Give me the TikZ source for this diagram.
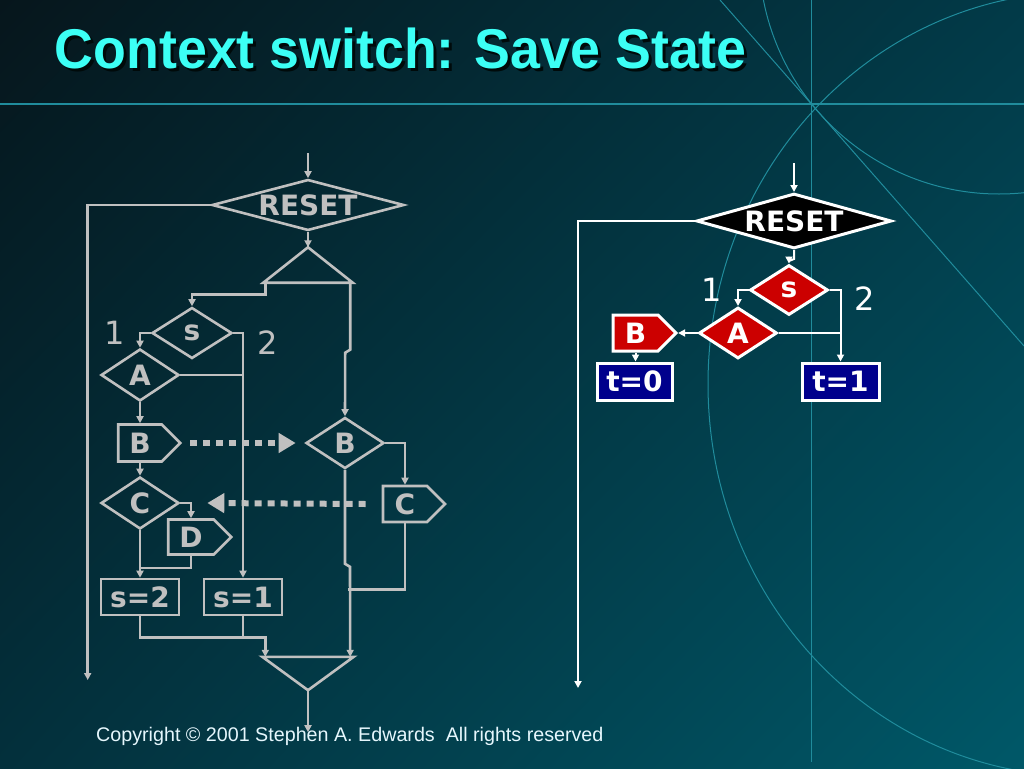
\documentclass[tikz,border=0pt]{standalone}
\usepackage{fontspec}
\setmainfont{Liberation Sans}
\newfontfamily\ttlfont[FakeStretch=0.96]{Liberation Sans}
\newfontfamily\dgfont{DejaVu Sans}
\usetikzlibrary{shapes.geometric,shapes.symbols,arrows.meta,shadings}
\definecolor{bgdark}{RGB}{6,22,28}
\definecolor{bgupr}{RGB}{2,58,72}
\definecolor{bglwl}{RGB}{3,48,60}
\definecolor{bglight}{RGB}{0,88,104}
\definecolor{deco}{RGB}{32,140,156}
\definecolor{titlecyan}{RGB}{60,255,245}
\definecolor{lgray}{RGB}{192,192,192}
\definecolor{sred}{RGB}{204,0,0}
\definecolor{snavy}{RGB}{0,0,140}

\begin{document}
\begin{tikzpicture}[x=1pt, y=-1pt,
  gline/.style={draw=lgray, line width=2.6pt},
  garr/.style={gline, -{Triangle[length=7pt,width=7pt]}},
  gdot/.style={draw=lgray, line width=6pt, dash pattern=on 7pt off 6pt, -{Triangle[length=17pt,width=19pt]}},
  gdia/.style={diamond, aspect=1.6, draw=lgray, line width=2.6pt, inner sep=0pt, text=lgray, font=\dgfont\bfseries\fontsize{28}{28}\selectfont},
  gsig/.style={signal, signal to=east, signal pointer angle=90, draw=lgray, line width=2.6pt, inner sep=0pt, text=lgray, font=\dgfont\bfseries\fontsize{28}{28}\selectfont},
  gbox/.style={rectangle, draw=lgray, line width=2.6pt, inner sep=0pt, text=lgray, font=\dgfont\bfseries\fontsize{28}{28}\selectfont},
  glab/.style={text=lgray, font=\dgfont\fontsize{32}{32}\selectfont},
  wline/.style={draw=white, line width=2pt},
  warr/.style={wline, -{Triangle[length=7pt,width=7pt]}},
  wdia/.style={diamond, aspect=1.6, draw=white, line width=3pt, inner sep=0pt, text=white, font=\dgfont\bfseries\fontsize{28}{28}\selectfont},
  wsig/.style={signal, signal to=east, signal pointer angle=90, draw=white, fill=sred, line width=3pt, inner sep=0pt, text=white, font=\dgfont\bfseries\fontsize{28}{28}\selectfont},
  wbox/.style={rectangle, draw=white, fill=snavy, line width=3pt, inner sep=0pt, text=white, font=\dgfont\bfseries\fontsize{28}{28}\selectfont},
  wlab/.style={text=white, font=\dgfont\fontsize{32}{32}\selectfont}]
\useasboundingbox (0,0) rectangle (1024,768);
\shade[upper left=bgdark, upper right=bgupr, lower left=bglwl, lower right=bglight] (0,0) rectangle (1024,768);

% background lines
\begin{scope}
\clip (0,0) rectangle (1024,768);
\draw[deco, line width=1.2pt] (0,104) -- (1024,104);
\draw[deco, line width=1pt] (811,0) -- (811,762);
\draw[deco, line width=1pt] (720,0) -- (1024,346);
\draw[deco, line width=1pt] (999,-46) circle (240);
\draw[deco, line width=1pt] (1080,384) ellipse [x radius=372, y radius=392];
\end{scope}

\node[anchor=base west, inner sep=0pt, text=black!92!teal, font=\ttlfont\bfseries\fontsize{56}{56}\selectfont] (shad) at (57.5,71) {Context switch: Save State};
\node[anchor=base west, inner sep=0pt, text=titlecyan, font=\ttlfont\bfseries\fontsize{56}{56}\selectfont] (title) at (54.5,68) {Context switch: Save State};

% left chart
\node[gdia, aspect=4, minimum width=192, minimum height=51] (rst) at (308,205) {RESET};
\coordinate (rstin) at (308,153);
\node[minimum width=89, minimum height=35, inner sep=0pt] (fork) at (308,265) {};
\node[gdia, minimum width=80, minimum height=51] (gs) at (192,333) {s};
\node[gdia, minimum width=78, minimum height=52] (ga) at (140,375) {A};
\node[gsig, minimum width=62, minimum height=37] (gb1) at (140,443) {B};
\node[gdia, minimum width=78, minimum height=52] (gc1) at (140,503) {C};
\node[gsig, minimum width=63, minimum height=35] (gd) at (191,537) {D};
\node[gbox, minimum width=78, minimum height=36] (gs2) at (140,597) {s=2};
\node[gbox, minimum width=78, minimum height=36] (gs1) at (243,597) {s=1};
\node[gdia, minimum width=78, minimum height=51] (gb2) at (345,443) {B};
\node[gsig, minimum width=62, minimum height=36] (gc2) at (405,504) {C};
\node[minimum width=91, minimum height=33, inner sep=0pt] (join) at (308,673.5) {};
\node[glab] (g1) at (115,333) {1};
\node[glab] (g2) at (268,343) {2};

\draw[gline] (fork.north) -- (fork.south east) -- (fork.south west) -- cycle;
\draw[gline] (join.north west) -- (join.north east) -- (join.south) -- cycle;
\draw[garr] (rstin) -- (rst.north);
\draw[garr] (rst.south) -- (fork.north);
\draw[garr] (rst.west) -- ++(-123,0) -- ++(0,475);
\draw[garr] ([xshift=2]fork.south west) -- ++(0,12) -| (gs.north);
\draw[garr] ([xshift=-2.5]fork.south east) -- ++(0,67) -- ++(-5,3) -- (gb2.north);
\draw[garr] (gs.west) -| (ga.north);
\draw[garr] (gs.east) -| (gs1.north);
\draw[gline] (ga.east) -- (ga.east -| gs1.north);
\draw[garr] (ga.south) -- (gb1.north);
\draw[garr] (gb1.south) -- (gc1.north);
\draw[garr] (gc1.east) -| (gd.north);
\draw[garr] (gc1.south) -- (gs2.north);
\draw[gline] (gd.south) -- ++(0,12) -- ++(-51,0);
\draw[garr] (gs2.south) -- ++(0,21) -| ([xshift=3]join.north west);
\draw[gline] (gs1.south) -- ++(0,21);
\draw[garr] (gb2.east) -| (gc2.north);
\draw[gline] (gc2.south) -- ++(0,66) -- ++(-57,0);
\draw[garr] (gb2.south) -- ++(0,94) -- ++(5,3) -- ([xshift=-3.5]join.north east);
\draw[garr] (join.south) -- ++(0,42);
\draw[gdot] ([xshift=8]gb1.east) -- ([xshift=-9]gb2.west);
\draw[gdot] ([xshift=-16]gc2.west) -- ([xshift=27]gc1.east);

% right chart
\node[wdia, aspect=4, fill=black, minimum width=195, minimum height=55] (wrst) at (794,221) {RESET};
\coordinate (wrstin) at (794,163);
\node[wdia, fill=sred, minimum width=78, minimum height=50] (ws) at (789,290) {s};
\node[wdia, fill=sred, minimum width=78, minimum height=51] (wa) at (738,333) {A};
\node[wsig, minimum width=63, minimum height=36] (wb) at (635.5,333) {B};
\node[wbox, minimum width=75, minimum height=37] (wt0) at (634.5,381.5) {t=0};
\node[wbox, minimum width=77, minimum height=37] (wt1) at (840.5,381.5) {t=1};
\node[wlab] (w1) at (712,290) {1};
\node[wlab] (w2) at (865,299) {2};

\draw[warr] (wrstin) -- (wrst.north);
\draw[warr] (wrst.south) -- ++(0,9) -- ++(-5,2) -- (ws.north);
\draw[warr] (wrst.west) -- ++(-117,0) -- ++(0,467);
\draw[warr] (ws.west) -| (wa.north);
\draw[warr] (ws.east) -| (wt1.north);
\draw[wline] (wa.east) -- (wa.east -| wt1.north);
\draw[warr] (wa.west) -- (wb.east);
\draw[warr] (wb.south) -- (wb.south |- wt0.north);

\node[anchor=base west, inner sep=0pt, text=white!90!cyan, font=\fontsize{19.7}{20}\selectfont] (copy) at (96,741) {Copyright \textcopyright{} 2001 Stephen A. Edwards\ \ All rights reserved};
\end{tikzpicture}
\end{document}
